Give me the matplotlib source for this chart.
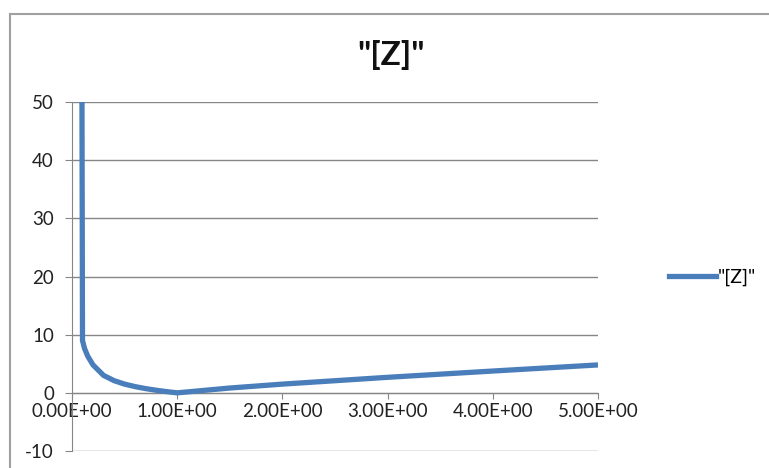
import matplotlib.pyplot as plt
from matplotlib.lines import Line2D

# values
x_vals = [0.095, 0.1, 0.12, 0.15, 0.2, 0.3, 0.4, 0.5, 0.6, 0.7, 0.8, 0.9, 1.0,
          1.5, 2.0, 3.0, 4.0, 5.0]
z_vals = [50.0, 9.0, 7.6, 6.3, 4.8, 3.0, 2.1, 1.5, 1.07, 0.73, 0.45, 0.21, 0.0,
          0.83, 1.5, 2.67, 3.75, 4.8]
x_ticks = [0, 1, 2, 3, 4, 5]
x_labels = ["0.00E+00", "1.00E+00", "2.00E+00", "3.00E+00", "4.00E+00", "5.00E+00"]
y_ticks = [-10, 0, 10, 20, 30, 40, 50]
series_name = '"[Z]"'

plt.rcParams["font.family"] = ["Lato", "DejaVu Sans"]
plt.rcParams["axes.unicode_minus"] = False

fig = plt.figure(figsize=(7.69, 4.68), dpi=100)
ax = fig.add_axes([0.0936, 0.0363, 0.684, 0.7457])

line_color = "#4a7ebb"
grid_color = "#868686"

ax.plot(x_vals, z_vals, color=line_color, lw=3.8, solid_capstyle="butt",
        solid_joinstyle="round", label=series_name, zorder=3)

ax.set_xlim(0, 5)
ax.set_ylim(-10, 50)
ax.set_yticks(y_ticks)
ax.set_xticks(x_ticks)
ax.set_xticklabels(x_labels)

ax.grid(axis="y", color=grid_color, lw=1)
ax.set_axisbelow(True)

for s in ["top", "right"]:
    ax.spines[s].set_visible(False)
ax.spines["bottom"].set_position(("data", 0))
ax.spines["bottom"].set_color(grid_color)
ax.spines["left"].set_color(grid_color)

ax.tick_params(axis="y", length=5, color=grid_color, pad=8, labelsize=13.5,
               labelcolor="#222222")
ax.tick_params(axis="x", length=4, color=grid_color, pad=3, labelsize=13.5,
               labelcolor="#222222")

fig.text(0.509, 0.883, series_name, ha="center", va="center",
         fontsize=24, fontweight="bold", color="#111111")

fig.legend(handles=[Line2D([], [], color=line_color, lw=3.8)],
           labels=[series_name], loc="center left",
           bbox_to_anchor=(0.860, 0.408), frameon=False, fontsize=14,
           handlelength=2.4, handletextpad=0.1, borderaxespad=0)

# chart area border (top and left edges visible in the reference)
fig.add_artist(Line2D([0.0125, 1.0], [1 - 13.5 / 468] * 2,
                      transform=fig.transFigure, color="#a0a0a0", lw=1.5))
fig.add_artist(Line2D([0.0125] * 2, [0.0, 1 - 13.5 / 468],
                      transform=fig.transFigure, color="#a0a0a0", lw=1.5))

fig.savefig("out.png", dpi=100)
